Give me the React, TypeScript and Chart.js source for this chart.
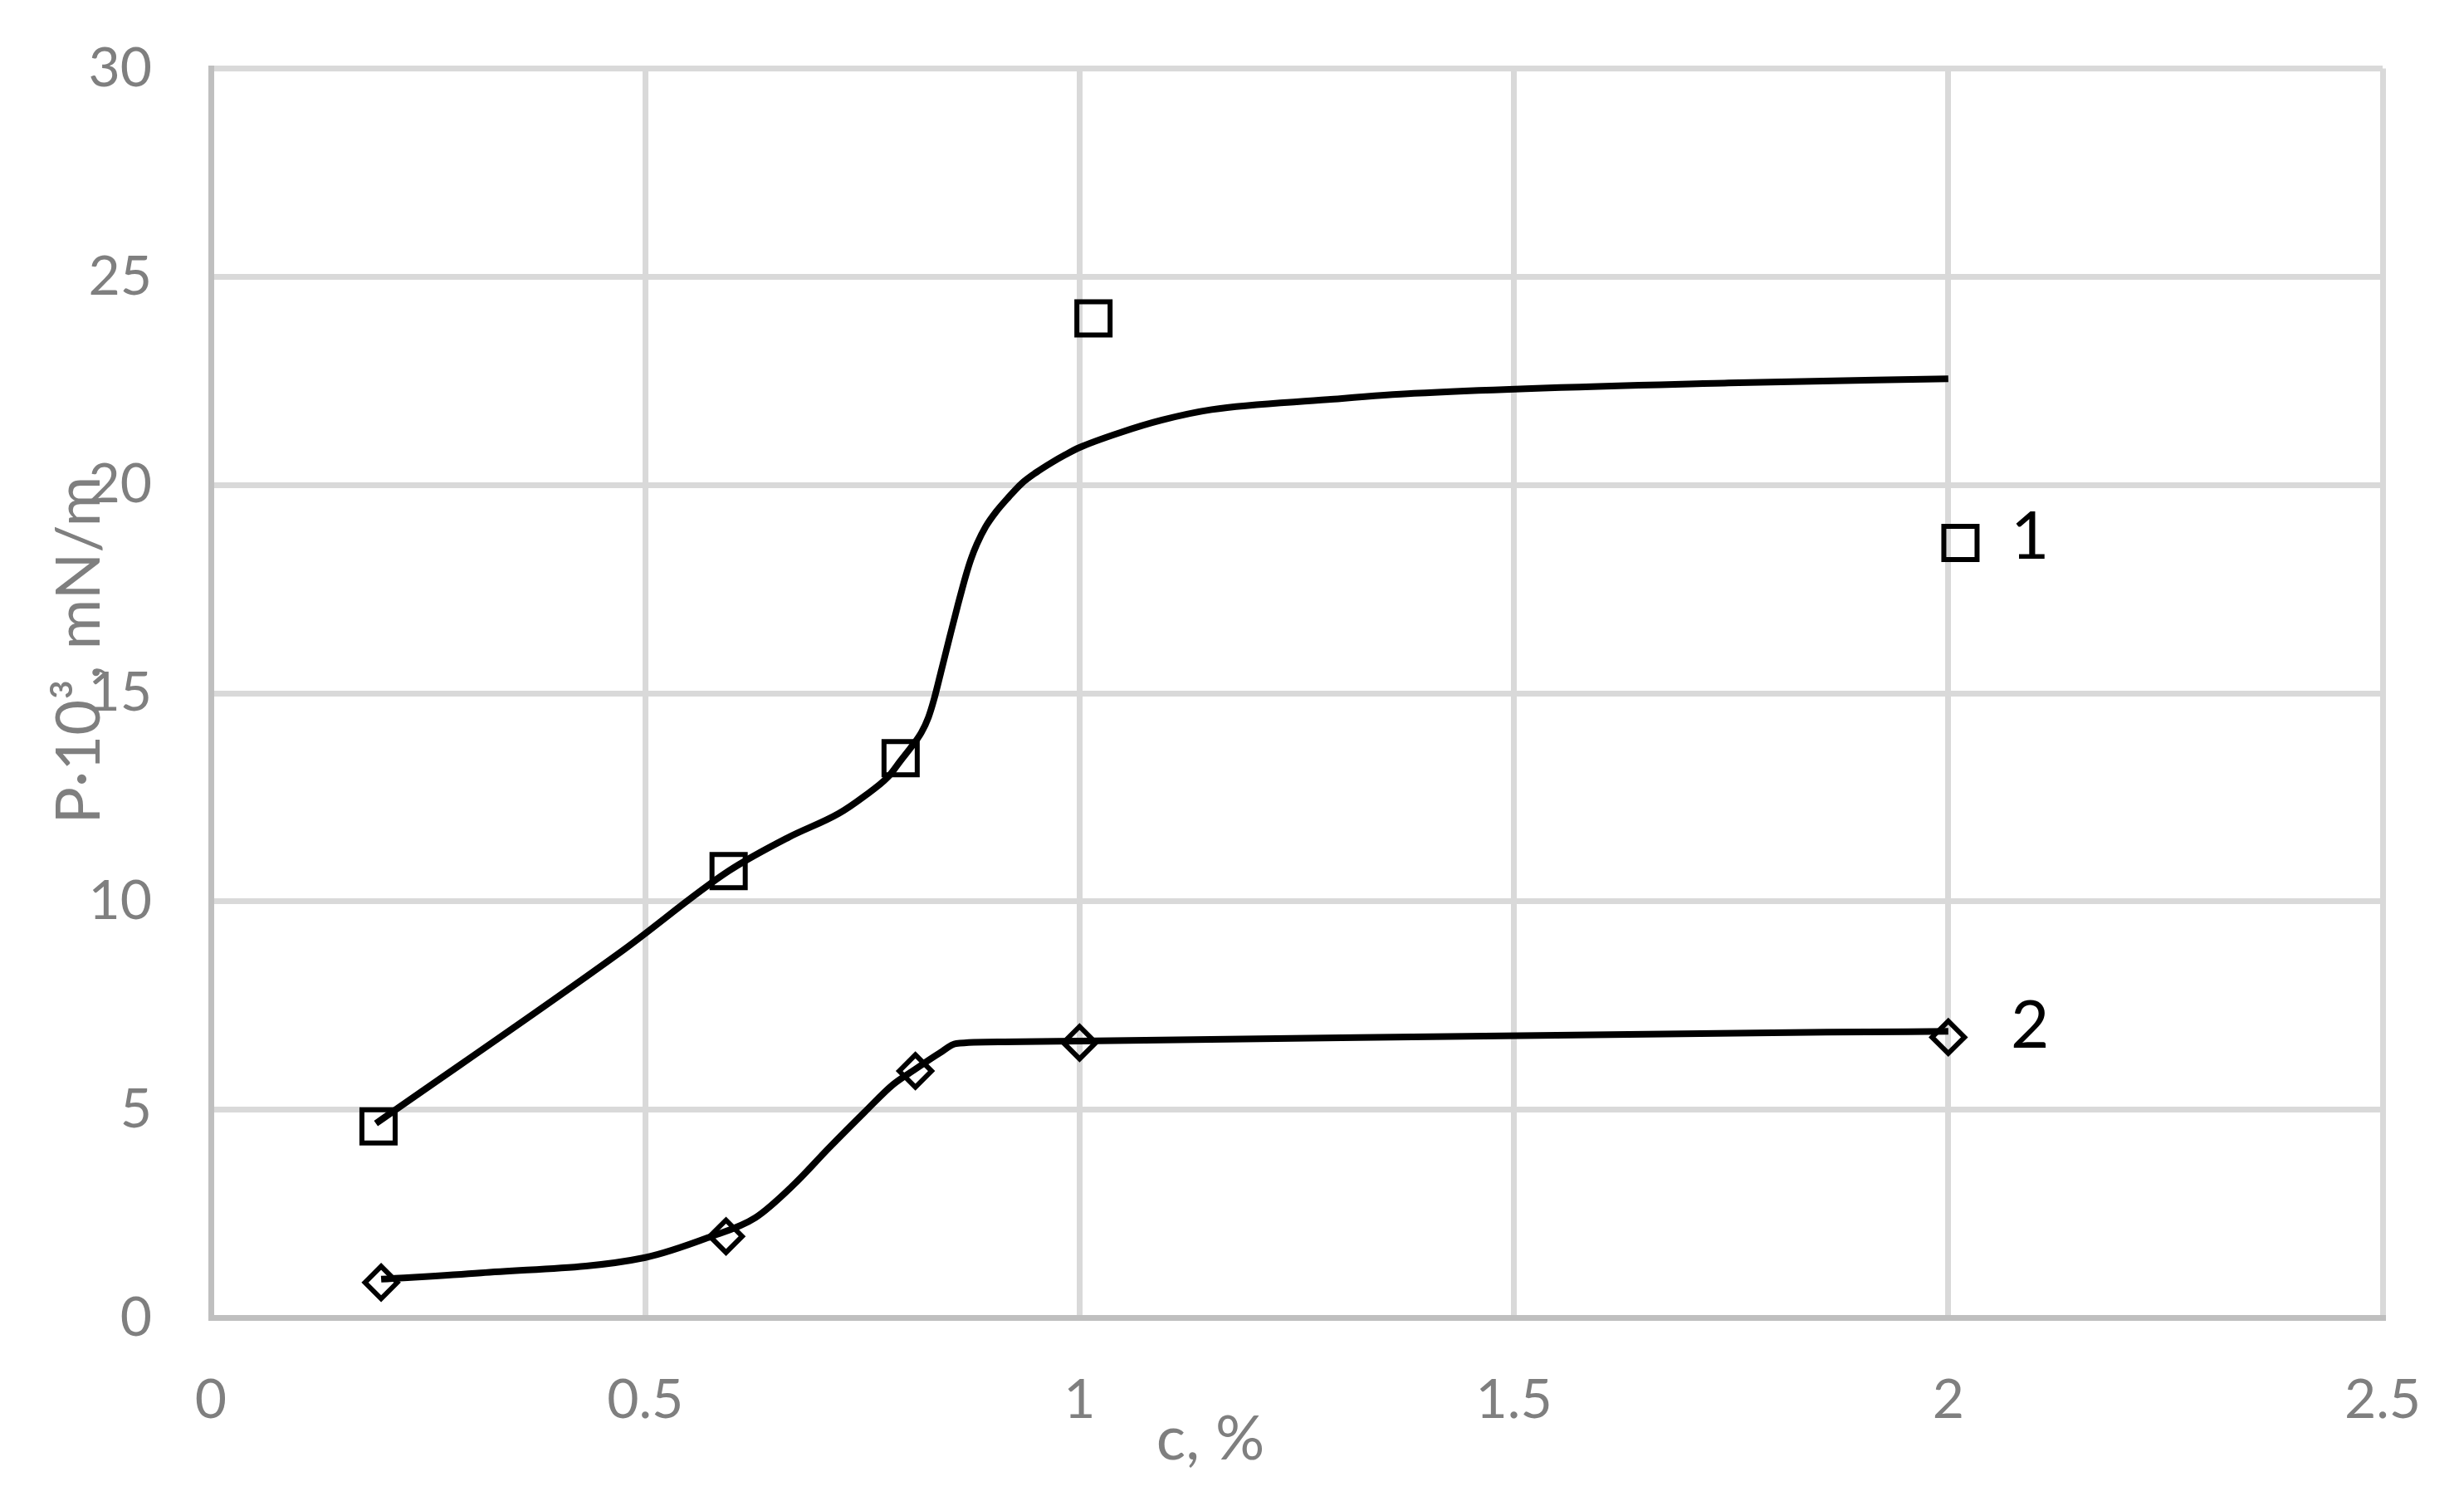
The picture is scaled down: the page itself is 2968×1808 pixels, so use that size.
import React, { useEffect, useRef } from "react";
import { Chart, registerables } from "chart.js";

Chart.register(...registerables);

// Measured markers, series 1 (squares)
const s1X = [0.193, 0.596, 0.794, 1.016, 2.014];
const s1Y = [4.6, 10.73, 13.44, 24.0, 18.61];
// Measured markers, series 2 (diamonds)
const s2X = [0.196, 0.593, 0.811, 1.0, 2.0];
const s2Y = [0.85, 1.96, 5.93, 6.61, 6.74];

// Smooth curve 1
const c1X = [0.19, 0.474, 0.596, 0.665, 0.7225, 0.751, 0.78, 0.794, 0.806, 0.818, 0.826, 0.8324, 0.8403, 0.8499, 0.8594, 0.869, 0.875, 0.8818, 0.892, 0.904, 0.918, 0.9335, 0.95, 0.968, 0.984, 1.0, 1.047, 1.095, 1.152, 1.286, 1.385, 1.747, 2.0];
const c1Y = [4.67, 8.82, 10.73, 11.54, 12.11, 12.51, 13.0, 13.38, 13.7, 14.06, 14.42, 14.85, 15.5, 16.3, 17.08, 17.82, 18.22, 18.58, 19.0, 19.36, 19.7, 20.04, 20.3, 20.54, 20.73, 20.9, 21.26, 21.56, 21.81, 22.05, 22.2, 22.45, 22.55];
// Smooth curve 2
const c2X = [0.196, 0.311, 0.5, 0.574, 0.627, 0.671, 0.711, 0.752, 0.785, 0.81, 0.839, 0.858, 0.913, 1.0, 1.86, 2.0];
const c2Y = [0.93, 1.08, 1.45, 1.94, 2.41, 3.2, 4.07, 4.93, 5.6, 5.96, 6.36, 6.59, 6.63, 6.65, 6.86, 6.88];

// Curve labels (text, x, baseline y in data units)
const curveLabels = ["1", "2"];
const curveLabelX = [2.094, 2.094];
const curveLabelY = [18.23, 6.49];

const xTickValues = [0, 0.5, 1, 1.5, 2, 2.5];
const xTickLabels = ["0", "0.5", "1", "1.5", "2", "2.5"];
const yTickValues = [0, 5, 10, 15, 20, 25, 30];
const yTickLabels = ["0", "5", "10", "15", "20", "25", "30"];

const xTitle = "c, %";
const yTitle = "P·10³, mN/m";

const FONT = "Lato";
const GRAY = "#7f7f7f";

const zip = (xs: number[], ys: number[]) => xs.map((x, i) => ({ x, y: ys[i] }));

export default function App() {
  const ref = useRef<HTMLCanvasElement | null>(null);
  useEffect(() => {
    if (!ref.current) return;
    const textPlugin = {
      id: "texts",
      afterDraw(chart: any) {
        const { ctx, scales, chartArea } = chart;
        const xs = scales.x;
        const ys = scales.y;
        ctx.save();
        ctx.fillStyle = "#000";
        ctx.font = `80px ${FONT}`;
        ctx.textAlign = "center";
        ctx.textBaseline = "alphabetic";
        curveLabels.forEach((t, i) => {
          ctx.fillText(t, xs.getPixelForValue(curveLabelX[i]), ys.getPixelForValue(curveLabelY[i]));
        });
        // axis titles
        ctx.fillStyle = GRAY;
        ctx.font = `74px ${FONT}`;
        const cx = (chartArea.left + chartArea.right) / 2 - 104;
        ctx.fillText(xTitle, cx, chartArea.bottom + 170);
        const cy = (chartArea.top + chartArea.bottom) / 2 - 52;
        ctx.translate(chartArea.left - 134, cy);
        ctx.rotate(-Math.PI / 2);
        ctx.fillText(yTitle, 0, 0);
        ctx.restore();
      },
    };
    const chart = new Chart(ref.current, {
      type: "scatter",
      data: {
        datasets: [
          {
            label: "curve1",
            data: zip(c1X, c1Y),
            showLine: true,
            borderColor: "#000",
            borderWidth: 8,
            pointRadius: 0,
            cubicInterpolationMode: "monotone",
            fill: false,
          },
          {
            label: "curve2",
            data: zip(c2X, c2Y),
            showLine: true,
            borderColor: "#000",
            borderWidth: 8,
            pointRadius: 0,
            cubicInterpolationMode: "monotone",
            fill: false,
          },
          {
            label: "1",
            data: zip(s1X, s1Y),
            showLine: false,
            pointStyle: "rect",
            pointRadius: 28.3,
            pointBorderWidth: 6,
            pointBorderColor: "#000",
            pointBackgroundColor: "rgba(0,0,0,0)",
          },
          {
            label: "2",
            data: zip(s2X, s2Y),
            showLine: false,
            pointStyle: "rectRot",
            pointRadius: 19.5,
            pointBorderWidth: 6,
            pointBorderColor: "#000",
            pointBackgroundColor: "rgba(0,0,0,0)",
          },
        ],
      } as any,
      options: {
        responsive: false,
        animation: false,
        devicePixelRatio: 1,
        layout: { autoPadding: false, padding: { top: 82.5, right: 98, left: 0, bottom: 0 } },
        plugins: { legend: { display: false }, tooltip: { enabled: false } },
        scales: {
          x: {
            type: "linear",
            min: 0,
            max: 2.5,
            afterBuildTicks: (s: any) => {
              s.ticks = xTickValues.map((v) => ({ value: v }));
            },
            ticks: {
              callback: (v: any) => xTickLabels[xTickValues.indexOf(Number(v))] ?? String(v),
              color: GRAY,
              font: { family: FONT, size: 66 },
              padding: 60,
              maxRotation: 0,
            },
            grid: { color: "#d9d9d9", lineWidth: 7, drawTicks: false },
            border: { color: "#bfbfbf", width: 7 },
            afterFit: (s: any) => {
              s.height = 1808 - 1587.5;
              s.paddingLeft = 0;
              s.paddingRight = 0;
            },
          },
          y: {
            type: "linear",
            min: 0,
            max: 30,
            afterBuildTicks: (s: any) => {
              s.ticks = yTickValues.map((v) => ({ value: v }));
            },
            ticks: {
              callback: (v: any) => yTickLabels[yTickValues.indexOf(Number(v))] ?? String(v),
              color: GRAY,
              font: { family: FONT, size: 66 },
              padding: 71,
            },
            grid: { color: "#d9d9d9", lineWidth: 7, drawTicks: false },
            border: { color: "#bfbfbf", width: 7 },
            afterFit: (s: any) => {
              s.width = 254;
              s.paddingTop = 0;
              s.paddingBottom = 0;
            },
          },
        },
      } as any,
      plugins: [textPlugin],
    });
    return () => chart.destroy();
  }, []);
  return (
    <div style={{ position: "fixed", left: 0, top: 0, width: 2968, height: 1808, background: "#fff" }}>
      <canvas ref={ref} width={2968} height={1808} style={{ display: "block", width: 2968, height: 1808 }} />
    </div>
  );
}
